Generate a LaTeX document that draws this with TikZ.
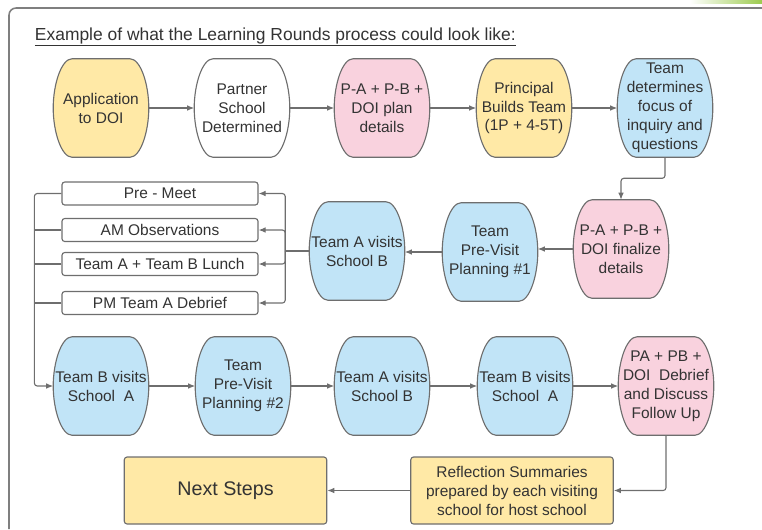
\documentclass[tikz,border=0pt]{standalone}
\usepackage{fontspec}
\setmainfont{Liberation Sans}
\usepackage{tikz}
\usetikzlibrary{calc, arrows.meta, backgrounds}

\definecolor{boxyellow}{HTML}{FFE9A6}
\definecolor{boxpink}{HTML}{F9D2DE}
\definecolor{boxblue}{HTML}{C1E4F7}
\definecolor{linegray}{HTML}{6E6E6E}
\definecolor{framegray}{HTML}{7F7F7F}
\definecolor{textgray}{HTML}{333333}
\definecolor{leafgreen}{HTML}{9CCB4E}

% barrel outline round a (borderless) node
\newcommand\barrel[2]{%
  \draw[boxline, fill=#2]
    ($(#1.north west)+(19,0)$) -- ($(#1.north east)+(-19,0)$)
    .. controls ($(#1.north east)+(-8,0)$) and ($(#1.north east)+(0,26)$) .. (#1.east)
    .. controls ($(#1.south east)+(0,-26)$) and ($(#1.south east)+(-8,0)$) .. ($(#1.south east)+(-19,0)$)
    -- ($(#1.south west)+(19,0)$)
    .. controls ($(#1.south west)+(8,0)$) and ($(#1.south west)+(0,-26)$) .. (#1.west)
    .. controls ($(#1.north west)+(0,26)$) and ($(#1.north west)+(8,0)$) .. cycle;}

\begin{document}
\begin{tikzpicture}
      [
        x=0.025cm, y=-0.025cm,
        every node/.style={text=textgray, font=\fontsize{11}{13.5}\selectfont},
        boxline/.style={draw=linegray, line width=0.8pt},
        stage/.style={align=center, inner sep=0pt, minimum width=2.375cm, minimum height=2.45cm},
        task/.style={boxline, fill=white, rounded corners=2pt, minimum width=4.9cm, minimum height=0.575cm, inner sep=0pt},
        note/.style={boxline, fill=boxyellow, rounded corners=2pt, align=center, minimum width=5.06cm, minimum height=1.675cm, inner sep=0pt},
        wire/.style={draw=linegray, line width=0.8pt, rounded corners=2pt},
        flow/.style={wire, -{Latex[length=5pt,width=4pt]}}
      ]
      \useasboundingbox (0,0) rectangle (762,529);
      % frame
      \shade[left color=white, right color=leafgreen] (690,0) rectangle (762,3);
      \draw[framegray, line width=1.1pt, rounded corners=5pt] (9,529) -- (9,8) -- (762,8);
      \node [anchor=base west, font=\fontsize{12.4}{15}\selectfont] (title) at (30,40)
        {\underline{Example of what the Learning Rounds process could look like:}};
      % stages
      \foreach \n/\x/\y/\t in {
          app/101/108/{Application\\to DOI},
          partner/242/108/{Partner\\School\\Determined},
          plan/382/108/{P-A + P-B +\\DOI plan\\details},
          builds/524/108/{Principal\\Builds Team\\(1P + 4-5T)},
          focus/665/108/{Team\\determines\\focus of\\inquiry and\\questions},
          final/621/249/{P-A + P-B +\\DOI finalize\\details},
          plan1/490/252/{Team\\Pre-Visit\\Planning \#1},
          visitA/357/251/{Team A visits\\School B},
          visitB1/101/386/{Team B visits\\School~ A},
          plan2/243/386/{Team\\Pre-Visit\\Planning \#2},
          visitA2/382/386/{Team A visits\\School B},
          visitB2/525/386/{Team B visits\\School~ A},
          debrief/666/386/{PA + PB +\\DOI~ Debrief\\and Discuss\\Follow Up}} {
          \node [stage] (\n) at (\x,\y) {\t};
      }
      \begin{scope}[on background layer]
        \foreach \n/\c in {app/boxyellow, partner/white, plan/boxpink, builds/boxyellow,
            focus/boxblue, final/boxpink, plan1/boxblue, visitA/boxblue, visitB1/boxblue,
            plan2/boxblue, visitA2/boxblue, visitB2/boxblue, debrief/boxpink} {
          \barrel{\n}{\c}
        }
      \end{scope}
      % visit day
      \node [task] (premeet) at (160,193.5) {Pre - Meet};
      \node [task] (amobs) at (160,230) {AM Observations};
      \node [task] (lunch) at (160,264) {Team A + Team B Lunch};
      \node [task] (pmdebrief) at (160,303) {PM Team A Debrief};
      % wrap up
      \node [note, font=\fontsize{14}{17}\selectfont] (next) at (225.5,490.5) {Next Steps};
      \node [note] (refl) at (512,490.5) {Reflection Summaries\\prepared by each visiting\\school for host school};
      % edges
      \foreach \a/\b in {app/partner, partner/plan, plan/builds, builds/focus,
          visitB1/plan2, plan2/visitA2, visitA2/visitB2, visitB2/debrief} {
          \draw [flow] (\a.east) -- (\b.west);
      }
      \draw [flow] (focus.south) -- ++(0,21) -| (final.north);
      \draw [flow] (final.west) -- (plan1.east |- final.west);
      \draw [flow] (plan1.west) -- (visitA.east |- plan1.west);
      \draw [wire] (visitA.west) -- ++(-24,0) coordinate (busR);
      \foreach \b in {premeet, amobs, lunch, pmdebrief} {
          \draw [flow] (busR) |- (\b.east);
      }
      \draw [flow] (premeet.west) -- ++(-27,0) |- (visitB1.west);
      \foreach \b in {amobs, lunch, pmdebrief} {
          \draw [wire] (\b.west) -- ++(-27,0);
      }
      \draw [flow] (debrief.south) |- (refl.east);
      \draw [flow] (refl.west) -- (next.east);
    \end{tikzpicture}
\end{document}
